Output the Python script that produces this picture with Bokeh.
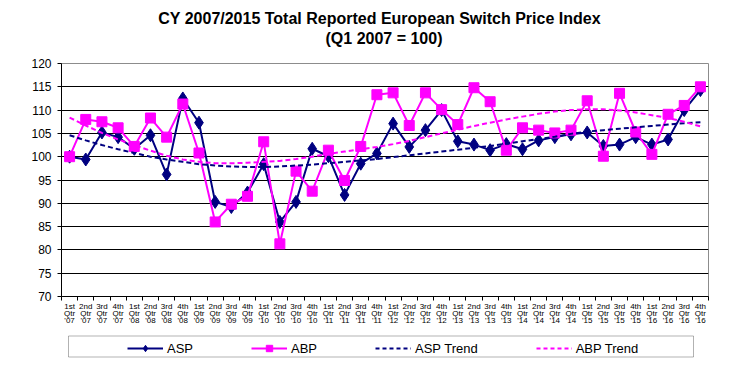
from bokeh.plotting import figure
from bokeh.layouts import column
from bokeh.models import (Range1d, FixedTicker, Legend, LegendItem, LinearAxis,
                          BoxAnnotation, Label)
from bokeh.embed import file_html
from bokeh.resources import INLINE

quarters = ["1st", "2nd", "3rd", "4th"]
years = ["'07", "'08", "'09", "'10", "'11", "'12", "'13", "'14", "'15", "'16"]
tick_quarter = [q for y in years for q in quarters]
tick_qtr = ["Qtr" for y in years for q in quarters]
tick_year = [y for y in years for q in quarters]

asp = [100.0, 99.4, 105.2, 104.2, 101.7, 104.6, 96.2, 112.5,
       107.3, 90.3, 89.2, 92.3, 98.4, 86.0, 90.3, 101.7,
       100.1, 91.8, 98.5, 100.7, 107.1, 102.1, 105.7, 110.0,
       103.3, 102.6, 101.4, 102.7, 101.6, 103.5, 104.2, 104.8,
       105.2, 102.3, 102.6, 104.2, 102.6, 103.7, 110.0, 114.3]
abp = [100.0, 108.0, 107.5, 106.2, 102.2, 108.3, 104.2, 111.3,
       100.8, 86.0, 89.8, 91.5, 103.2, 81.3, 96.9, 92.6,
       101.4, 94.9, 102.2, 113.3, 113.7, 106.7, 113.7, 110.1,
       106.9, 114.8, 111.8, 101.4, 106.2, 105.7, 105.1, 105.7,
       112.0, 100.1, 113.6, 105.3, 100.5, 109.1, 111.0, 115.0]
asp_trend = [104.6, 103.5, 102.5, 101.6, 100.8, 100.0, 99.4, 98.9,
             98.4, 98.1, 97.9, 97.8, 97.8, 97.9, 98.1, 98.3,
             98.6, 98.9, 99.2, 99.5, 99.9, 100.3, 100.7, 101.1,
             101.5, 101.9, 102.3, 102.8, 103.3, 103.8, 104.3, 104.9,
             105.4, 105.7, 106.0, 106.3, 106.6, 106.9, 107.2, 107.4]
abp_trend = [108.4, 106.7, 105.1, 103.7, 102.5, 101.3, 100.2, 99.4,
             98.9, 98.6, 98.6, 98.7, 98.9, 99.1, 99.5, 100.0,
             100.6, 101.1, 101.6, 102.1, 102.7, 103.4, 104.2, 105.0,
             105.8, 106.6, 107.3, 108.0, 108.6, 109.2, 109.7, 110.0,
             110.2, 110.2, 109.9, 109.5, 108.9, 108.3, 107.5, 106.5]
y_ticks = [70, 75, 80, 85, 90, 95, 100, 105, 110, 115, 120]
title_lines = ["CY 2007/2015   Total Reported European Switch Price Index",
               "(Q1 2007 = 100)"]

FONT = "Liberation Sans"
NAVY = "#000080"
MAGENTA = "#FF00FF"
BL, BR, FW = 61, 23, 647   # shared left/right borders and frame width

x = list(range(len(tick_quarter)))

# ---- title strip ----
tf = figure(width=BL + FW + BR, height=55, frame_width=FW, frame_height=55,
            output_backend="svg", toolbar_location=None,
            x_range=Range1d(0, FW), y_range=Range1d(0, 55),
            x_axis_location=None, y_axis_location=None,
            min_border_left=BL, min_border_right=BR, min_border_top=0,
            min_border_bottom=0)
tf.xgrid.grid_line_color = None
tf.ygrid.grid_line_color = None
tf.outline_line_color = None
for txt, ty in zip(title_lines, (37, 17)):
    tf.add_layout(Label(x=FW / 2 - 1, y=ty, text=txt, text_align="center",
                        text_baseline="middle", text_font=FONT,
                        text_font_size="16px", text_font_style="bold",
                        text_color="black"))

# ---- main chart ----
p = figure(width=BL + FW + BR, frame_width=FW, frame_height=233,
           output_backend="svg", toolbar_location=None,
           x_range=Range1d(-0.5, len(x) - 0.5), y_range=Range1d(70, 120),
           min_border_left=BL, min_border_right=BR, min_border_top=8,
           min_border_bottom=0)
p.background_fill_color = "white"
p.border_fill_color = "white"
p.outline_line_color = "#8c8c8c"
p.outline_line_width = 1

p.xaxis.ticker = FixedTicker(ticks=x, minor_ticks=[i - 0.5 for i in range(len(x) + 1)])
p.xaxis.major_label_overrides = {i: lab for i, lab in enumerate(tick_quarter)}
p.xaxis.major_tick_line_color = None
p.xaxis.major_tick_out = 0
p.xaxis.minor_tick_line_color = "black"
p.xaxis.minor_tick_out = 4
p.xaxis.minor_tick_in = 0
p.xaxis.major_label_text_font = FONT
p.xaxis.major_label_text_font_size = "8px"
p.xaxis.major_label_text_color = "black"
p.xaxis.major_label_standoff = 1
p.xaxis.axis_line_color = "black"

for labels in (tick_qtr, tick_year):
    ax = LinearAxis(ticker=FixedTicker(ticks=x),
                    major_label_overrides={i: lab for i, lab in enumerate(labels)},
                    axis_line_color=None, major_tick_line_color=None,
                    minor_tick_line_color=None, major_tick_out=0, major_tick_in=0,
                    major_label_standoff=-5, major_label_text_font=FONT,
                    major_label_text_font_size="8px", major_label_text_color="black")
    p.add_layout(ax, "below")

p.yaxis.ticker = FixedTicker(ticks=y_ticks)
p.yaxis.major_label_text_font = FONT
p.yaxis.major_label_text_font_size = "12px"
p.yaxis.major_label_text_color = "black"
p.yaxis.major_tick_out = 4
p.yaxis.major_tick_in = 0
p.yaxis.minor_tick_line_color = None
p.yaxis.axis_line_color = "black"
p.yaxis.major_label_standoff = 6

p.xgrid.grid_line_color = None
p.ygrid.ticker = FixedTicker(ticks=y_ticks[1:-1])
p.ygrid.grid_line_color = "black"
p.ygrid.grid_line_width = 1

p.line(x, asp, line_color=NAVY, line_width=2)
p.scatter(x, asp, marker="diamond", size=13, fill_color=NAVY, line_color=NAVY)
p.line(x, abp, line_color=MAGENTA, line_width=2)
p.scatter(x, abp, marker="square", size=10, fill_color=MAGENTA, line_color=MAGENTA)
p.line(x, asp_trend, line_color=NAVY, line_width=2, line_dash="5 3")
p.line(x, abp_trend, line_color=MAGENTA, line_width=2, line_dash="5 3")

# ---- legend strip: series lie outside its view, only legend glyphs show ----
lg = figure(width=BL + FW + BR, height=32, frame_width=FW, frame_height=32,
            output_backend="svg", toolbar_location=None,
            x_range=Range1d(0, FW), y_range=Range1d(0, 32),
            x_axis_location=None, y_axis_location=None,
            min_border_left=BL, min_border_right=BR, min_border_top=0,
            min_border_bottom=0)
lg.xgrid.grid_line_color = None
lg.ygrid.grid_line_color = None
lg.outline_line_color = None
lg.border_fill_color = "white"
lg.add_layout(BoxAnnotation(left=7, right=632, bottom=2.5, top=23.5,
                            fill_alpha=0, line_color="black", line_width=1))
l1 = lg.line(x, asp, line_color=NAVY, line_width=2)
m1 = lg.scatter(x, asp, marker="diamond", size=11, fill_color=NAVY, line_color=NAVY)
l2 = lg.line(x, abp, line_color=MAGENTA, line_width=2)
m2 = lg.scatter(x, abp, marker="square", size=9, fill_color=MAGENTA, line_color=MAGENTA)
l3 = lg.line(x, asp_trend, line_color=NAVY, line_width=2, line_dash="4 3")
l4 = lg.line(x, abp_trend, line_color=MAGENTA, line_width=2, line_dash="4 3")

legend = Legend(items=[
    LegendItem(label="ASP", renderers=[l1, m1]),
    LegendItem(label="ABP", renderers=[l2, m2]),
    LegendItem(label="ASP Trend", renderers=[l3]),
    LegendItem(label="ABP Trend", renderers=[l4]),
], orientation="horizontal", location=(66, 3), spacing=58, padding=2,
    glyph_width=36, glyph_height=16, label_standoff=4, label_height=16,
    label_text_font=FONT, label_text_font_size="13px", label_text_color="black",
    border_line_color=None, background_fill_alpha=0, margin=0)
lg.add_layout(legend, "center")

open("out.html", "w").write(file_html(column(tf, p, lg, spacing=0), INLINE))
